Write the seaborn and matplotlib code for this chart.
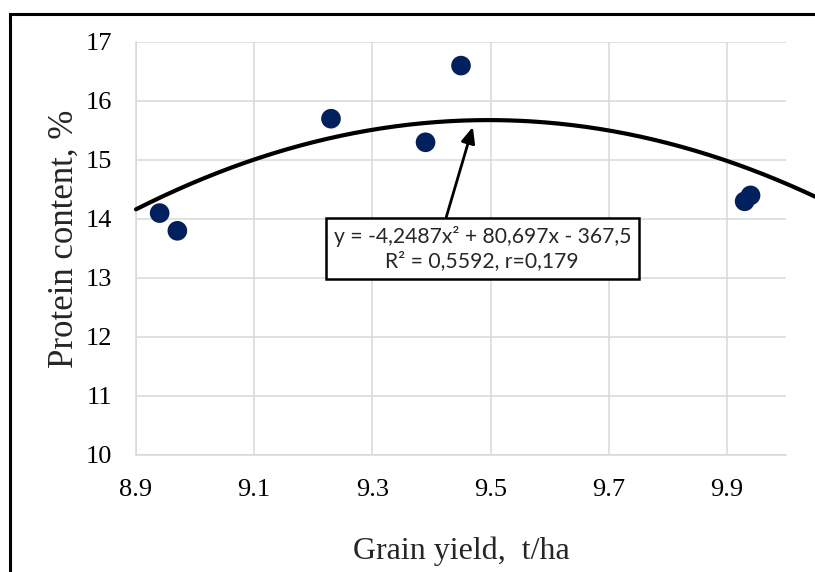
import numpy as np
import pandas as pd
import matplotlib
matplotlib.use("Agg")
import matplotlib.pyplot as plt
import seaborn as sns
from matplotlib.patches import Rectangle

# ---- data ----
grain_yield = [8.94, 8.97, 9.23, 9.39, 9.45, 9.93, 9.94]
protein = [14.1, 13.8, 15.7, 15.3, 16.6, 14.3, 14.4]
trend_coefs = [-4.2487, 80.697, -367.5]
x_ticks = [8.9, 9.1, 9.3, 9.5, 9.7, 9.9]
y_ticks = [10, 11, 12, 13, 14, 15, 16, 17]
eq_text = "y = -4,2487x² + 80,697x - 367,5\nR² = 0,5592, r=0,179"

sns.set_theme(style="white")
plt.rcParams["font.family"] = ["Liberation Serif", "DejaVu Serif"]

W, H = 815, 572
fig = plt.figure(figsize=(W / 100, H / 100), dpi=100)
ax = fig.add_axes([136 / W, 1 - 455 / H, 650 / W, 413 / H])

df = pd.DataFrame({"x": grain_yield, "y": protein})

# trendline
xs = np.linspace(8.9, 10.05, 300)
ys = np.polyval(trend_coefs, xs)
tr = pd.DataFrame({"x": xs, "y": ys})
sns.lineplot(data=tr, x="x", y="y", ax=ax, color="black", linewidth=3.0,
             zorder=3, clip_on=False, sort=False)

sns.scatterplot(data=df, x="x", y="y", ax=ax, color="#002060", s=200,
                edgecolor="none", zorder=4)

ax.set_xlim(8.9, 10.0)
ax.set_ylim(10, 17)
ax.set_xticks(x_ticks)
ax.set_xticklabels([f"{v:.1f}" for v in x_ticks])
ax.set_yticks(y_ticks)
ax.set_yticklabels([str(v) for v in y_ticks])
ax.grid(True, color="#d9d9d9", linewidth=1.1)
ax.set_axisbelow(True)
for s in ["top", "right"]:
    ax.spines[s].set_visible(False)
for s in ["left", "bottom"]:
    ax.spines[s].set_color("#d9d9d9")
    ax.spines[s].set_linewidth(1.1)
ax.tick_params(axis="both", length=0, labelsize=19, colors="black")
ax.tick_params(axis="y", pad=17)
ax.tick_params(axis="x", pad=17)

ax.set_xlabel("Grain yield,  t/ha", fontsize=23, labelpad=26)
ax.set_ylabel("Protein content, %", fontsize=25, labelpad=4)
ax.yaxis.label.set_y(0.523)

# annotation box with arrow
ax.annotate("", xy=(9.470, 15.56), xytext=(9.425, 14.03),
            arrowprops=dict(arrowstyle="-|>,head_length=0.8,head_width=0.35",
                            color="black", lw=2.0, shrinkA=0, shrinkB=0),
            zorder=5)
ax.text(9.486, 13.50, eq_text, ha="center", va="center", fontsize=15.2,
        family=["Lato", "DejaVu Sans"], linespacing=1.3, zorder=6,
        bbox=dict(boxstyle="square,pad=0.38", facecolor="white",
                  edgecolor="black", linewidth=1.8))

# outer frame
fig.patches.append(Rectangle((10 / W, -0.1), 1.2, 1 - 14 / H + 0.1,
                             transform=fig.transFigure, fill=False,
                             edgecolor="black", linewidth=2.2, zorder=10))

fig.savefig("out.png", dpi=100)
